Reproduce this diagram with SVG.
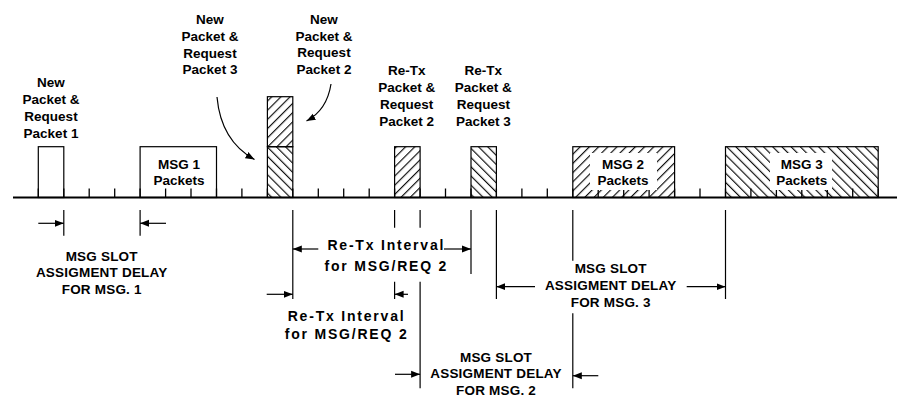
<svg xmlns="http://www.w3.org/2000/svg" width="897" height="399" viewBox="0 0 897 399">
<style>
text{font-family:"Liberation Sans",Arial,sans-serif;font-weight:bold;font-size:13.5px;fill:#000;text-anchor:middle}
.ri{font-size:14px;letter-spacing:1.8px}
.sl{letter-spacing:0.2px}
.box{stroke:#000;stroke-width:1.2}
.ln{stroke:#000;stroke-width:1.2;fill:none}
.tk{stroke:#000;stroke-width:1.3}
</style>
<defs>
<pattern id="fwd" patternUnits="userSpaceOnUse" width="6.5" height="6.5" patternTransform="rotate(45)">
<line x1="0.6" y1="0" x2="0.6" y2="6.5" stroke="#000" stroke-width="1.1"/>
</pattern>
<pattern id="bck" patternUnits="userSpaceOnUse" width="6.5" height="6.5" patternTransform="rotate(-45)">
<line x1="0.6" y1="0" x2="0.6" y2="6.5" stroke="#000" stroke-width="1.1"/>
</pattern>
<marker id="ah" markerUnits="userSpaceOnUse" markerWidth="10" markerHeight="8" refX="9" refY="4" orient="auto">
<path d="M0,0.5 L9,4 L0,7.5 Z" fill="#000"/>
</marker>
</defs>

<g id="axis">
<line x1="13" y1="197.5" x2="897" y2="197.5" stroke="#000" stroke-width="1.8"/>
<g class="tk">
<line x1="38.3" y1="188.5" x2="38.3" y2="197.5"/><line x1="63.8" y1="188.5" x2="63.8" y2="197.5"/><line x1="89.2" y1="188.5" x2="89.2" y2="197.5"/><line x1="114.7" y1="188.5" x2="114.7" y2="197.5"/><line x1="140.1" y1="188.5" x2="140.1" y2="197.5"/><line x1="165.6" y1="188.5" x2="165.6" y2="197.5"/><line x1="191" y1="188.5" x2="191" y2="197.5"/><line x1="216.5" y1="188.5" x2="216.5" y2="197.5"/><line x1="241.9" y1="188.5" x2="241.9" y2="197.5"/><line x1="267.4" y1="188.5" x2="267.4" y2="197.5"/><line x1="292.8" y1="188.5" x2="292.8" y2="197.5"/><line x1="318.3" y1="188.5" x2="318.3" y2="197.5"/><line x1="343.7" y1="188.5" x2="343.7" y2="197.5"/><line x1="369.2" y1="188.5" x2="369.2" y2="197.5"/><line x1="394.6" y1="188.5" x2="394.6" y2="197.5"/><line x1="420.1" y1="188.5" x2="420.1" y2="197.5"/><line x1="445.5" y1="188.5" x2="445.5" y2="197.5"/><line x1="471" y1="188.5" x2="471" y2="197.5"/><line x1="496.4" y1="188.5" x2="496.4" y2="197.5"/><line x1="521.9" y1="188.5" x2="521.9" y2="197.5"/><line x1="547.3" y1="188.5" x2="547.3" y2="197.5"/><line x1="572.8" y1="188.5" x2="572.8" y2="197.5"/><line x1="598.2" y1="188.5" x2="598.2" y2="197.5"/><line x1="623.7" y1="188.5" x2="623.7" y2="197.5"/><line x1="649.1" y1="188.5" x2="649.1" y2="197.5"/><line x1="674.6" y1="188.5" x2="674.6" y2="197.5"/><line x1="700" y1="188.5" x2="700" y2="197.5"/><line x1="725.5" y1="188.5" x2="725.5" y2="197.5"/><line x1="750.9" y1="188.5" x2="750.9" y2="197.5"/><line x1="776.4" y1="188.5" x2="776.4" y2="197.5"/><line x1="801.8" y1="188.5" x2="801.8" y2="197.5"/><line x1="827.3" y1="188.5" x2="827.3" y2="197.5"/><line x1="852.7" y1="188.5" x2="852.7" y2="197.5"/><line x1="878.2" y1="188.5" x2="878.2" y2="197.5"/>
</g>
</g>

<g id="pkt1">
<rect class="box" x="38.3" y="146.7" width="25.5" height="50.8" fill="none"/>
<text x="51" y="87.3">New</text><text x="51" y="104.3">Packet &amp;</text><text x="51" y="121.3">Request</text><text x="51" y="138.3">Packet 1</text>
</g>

<g id="msg1">
<rect class="box" x="140.1" y="146.7" width="76.4" height="50.8" fill="none"/>
<text x="179" y="168.5">MSG 1</text><text x="179" y="185">Packets</text>
</g>

<g id="stack">
<rect class="box" x="267.4" y="96.7" width="25.4" height="50" fill="url(#fwd)"/>
<rect class="box" x="267.4" y="146.7" width="25.4" height="50.8" fill="url(#bck)"/>
</g>

<g id="lbl-new3">
<text x="210" y="24.3">New</text><text x="210" y="41">Packet &amp;</text><text x="210" y="57.7">Request</text><text x="210" y="74.3">Packet 3</text>
</g>
<g id="lbl-new2">
<text x="324" y="24">New</text><text x="324" y="40.7">Packet &amp;</text><text x="324" y="57.4">Request</text><text x="324" y="74.1">Packet 2</text>
</g>

<g id="rtx2">
<rect class="box" x="394.6" y="146.7" width="25.5" height="50.8" fill="url(#fwd)"/>
<text x="406.7" y="75">Re-Tx</text><text x="406.7" y="91.9">Packet &amp;</text><text x="406.7" y="108.8">Request</text><text x="406.7" y="125.7">Packet 2</text>
</g>

<g id="rtx3">
<rect class="box" x="471" y="146.7" width="25.4" height="50.8" fill="url(#bck)"/>
<text x="483.3" y="75">Re-Tx</text><text x="483.3" y="91.9">Packet &amp;</text><text x="483.3" y="108.8">Request</text><text x="483.3" y="125.7">Packet 3</text>
</g>

<g id="msg2">
<rect class="box" x="572.8" y="146.7" width="101.8" height="50.8" fill="url(#fwd)"/>
<rect x="590" y="153" width="67" height="37" fill="#fff"/>
<text x="623" y="168.5">MSG 2</text><text x="623" y="185">Packets</text>
</g>

<g id="msg3">
<rect class="box" x="725.5" y="146.7" width="152.7" height="50.8" fill="url(#bck)"/>
<rect x="770" y="153" width="62" height="37" fill="#fff"/>
<text x="801.7" y="168.5">MSG 3</text><text x="801.7" y="185">Packets</text>
</g>

<g id="connectors">
<path class="ln" d="M217,97 Q221,141 254.5,159.5" marker-end="url(#ah)"/>
<path class="ln" d="M331,84 Q327,110 306.5,121" marker-end="url(#ah)"/>

<line class="ln" x1="63.8" y1="210" x2="63.8" y2="235.7"/>
<line class="ln" x1="140.1" y1="210" x2="140.1" y2="235.7"/>
<line class="ln" x1="292.8" y1="210" x2="292.8" y2="299"/>
<line class="ln" x1="394.6" y1="210" x2="394.6" y2="227.7"/>
<line class="ln" x1="394.6" y1="281.7" x2="394.6" y2="299"/>
<line class="ln" x1="420.1" y1="210" x2="420.1" y2="227.7"/>
<line class="ln" x1="420.1" y1="281.7" x2="420.1" y2="388.3"/>
<line class="ln" x1="471" y1="210" x2="471" y2="274"/>
<line class="ln" x1="496.4" y1="210" x2="496.4" y2="299"/>
<line class="ln" x1="572.8" y1="210" x2="572.8" y2="260.7"/>
<line class="ln" x1="572.8" y1="313.3" x2="572.8" y2="388.3"/>
<line class="ln" x1="725.5" y1="210" x2="725.5" y2="299"/>

<line class="ln" x1="38.3" y1="223.3" x2="63.8" y2="223.3" marker-end="url(#ah)"/>
<line class="ln" x1="166" y1="223.3" x2="140.1" y2="223.3" marker-end="url(#ah)"/>
<line class="ln" x1="318.3" y1="249" x2="292.8" y2="249" marker-end="url(#ah)"/>
<line class="ln" x1="444" y1="249" x2="471" y2="249" marker-end="url(#ah)"/>
<line class="ln" x1="266.7" y1="294.3" x2="292.8" y2="294.3" marker-end="url(#ah)"/>
<line class="ln" x1="408" y1="294.3" x2="394.6" y2="294.3" marker-end="url(#ah)"/>
<line class="ln" x1="395" y1="374.3" x2="420.1" y2="374.3" marker-end="url(#ah)"/>
<line class="ln" x1="535" y1="286.7" x2="496.4" y2="286.7" marker-end="url(#ah)"/>
<line class="ln" x1="686.7" y1="286.7" x2="725.5" y2="286.7" marker-end="url(#ah)"/>
<line class="ln" x1="598.3" y1="375.7" x2="572.8" y2="375.7" marker-end="url(#ah)"/>
</g>

<g id="lbl-slot1" class="sl">
<text x="101.7" y="260.7">MSG SLOT</text><text x="101.7" y="277.3">ASSIGMENT DELAY</text><text x="101.7" y="294">FOR MSG. 1</text>
</g>
<g id="lbl-retx-upper">
<text class="ri" x="386.3" y="250">Re-Tx Interval</text><text class="ri" x="386.3" y="270.7">for MSG/REQ 2</text>
</g>
<g id="lbl-retx-lower">
<text class="ri" x="346.6" y="320.7">Re-Tx Interval</text><text class="ri" x="346.6" y="339.3">for MSG/REQ 2</text>
</g>
<g id="lbl-slot3" class="sl">
<text x="610.7" y="273.3">MSG SLOT</text><text x="610.7" y="290">ASSIGMENT DELAY</text><text x="610.7" y="306.7">FOR MSG. 3</text>
</g>
<g id="lbl-slot2" class="sl">
<text x="496" y="361.7">MSG SLOT</text><text x="496" y="378.3">ASSIGMENT DELAY</text><text x="496" y="395">FOR MSG. 2</text>
</g>
</svg>
